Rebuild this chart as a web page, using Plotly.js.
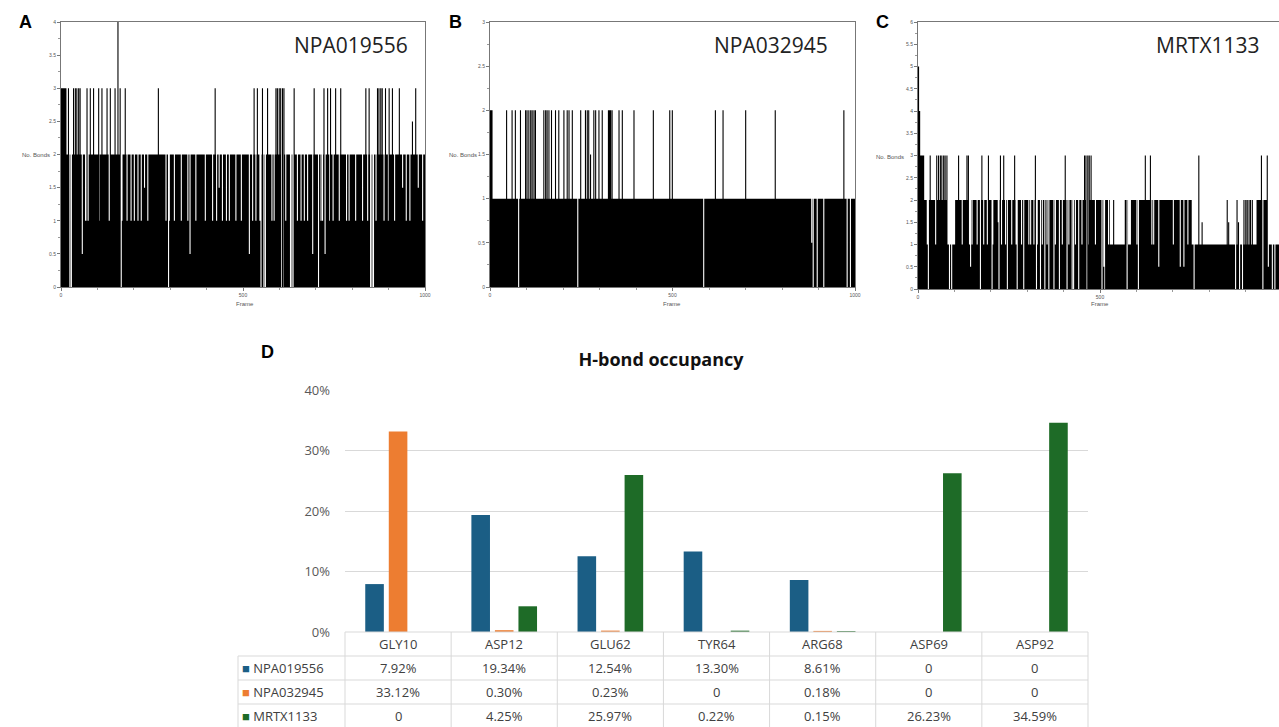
<!DOCTYPE html>
<html>
<head>
<meta charset="utf-8">
<script src="https://cdn.plot.ly/plotly-3.0.1.min.js"></script>
<style>
  html, body { margin: 0; padding: 0; background: #fff; }
  #chart { width: 1279px; height: 727px; }
</style>
</head>
<body>
<div id="chart"></div>
<script>
// ---------------- DATA ----------------
// Panel H-bond counts per frame: base runs [startFrame, level],
// dips and spikes [frame, level]
const nFrames = 1000;

const aRuns = [[0, 3], [15, 2], [66, 1], [76, 2]];
const aDips = [
  [103,1],[131,1],[166,1],[180,1],[191,1],[200,1],[210,1],[219,1],[237,1],[287,1],[296,1],[310,1],
  [329,1],[347,1],[369,1],[395,1],[415,1],[426,1],[442,1],[453,1],[461,1],[479,1],[494,1],[525,1],
  [534,1],[545,1],[578,1],[584,1],[616,1],[648,1],[658,1],[667,1],[676,1],[713,1],[717,1],[737,1],
  [746,1],[763,1],[783,1],[790,1],[808,1],[827,1],[841,1],[864,1],[886,1],[898,1],[915,1],[947,1],
  [957,1],[992,1],
  [228,1.5],[433,1.5],[937,1.5],[980,1.5],
  [23,0],[27,0],[164,0],[294,0],[548,0],[556,0],[560,0],[603,0],[606,0],[609,0],[629,0],[633,0],
  [637,0],[706,0],[849,0],[853,0],[857,0],
  [57,0.5],[353,0.5],[516,0.5],[690,0.5],[724,0.5]
];
const aSpikes = [
  [19,3],[33,3],[38,3],[42,3],[47,3],[51,3],[70,3],[79,3],[88,3],[102,3],[111,3],[125,3],[134,3],
  [147,3],[155,4],[161,3],[175,3],[266,3],[422,3],[529,3],[538,3],[552,3],[566,3],[589,3],[593,3],
  [598,3],[602,3],[607,3],[611,3],[639,3],[694,3],[721,3],[731,3],[739,3],[753,3],[767,3],[836,3],
  [845,3],[868,3],[872,3],[877,3],[881,3],[890,3],[900,3],[909,3],[928,3],[964,2.5],[973,3]
];

const bRuns = [[0, 2], [7, 1]];
const bDips = [[77,0],[239,0],[584,0],[880,0.5],[884,0],[895,0],[913,0],[977,0],[986,0]];
const bSpikes = [
  [44,2],[59,2],[68,2],[82,2],[96,2],[100,2],[105,2],[110,2],[114,2],[119,2],[123,2],[146,2],
  [151,2],[155,2],[160,2],[167,2],[178,2],[187,2],[201,2],[210,2],[215,2],[224,2],[247,2],[260,2],
  [265,2],[269,2],[274,1.5],[283,2],[288,2],[297,2],[306,2],[323,2],[326,2],[329,2],[333,2],[352,2],
  [361,2],[393,2],[446,2],[491,2],[498,2],[616,2],[637,2],[699,2],[780,2],[968,2]
];

const cRuns = [[0,5],[3,4],[6,3],[17,2],[81,1],[102,2],[527,1],[568,2],[577,1],[585,2],[752,1],[930,2],[958,1]];
const cDips = [
  [24,1],[47,1],[120,1],[140,1],[147,1],[161,1],[179,1],[189,1],[204,1],[228,1],[239,1],[256,1],
  [268,1],[283,1],[303,1],[308,1],[317,1],[326,1],[340,1],[353,1],[376,1],[395,1],[413,1],[431,1],
  [449,1],[468,1],[486,1],[522,1],[600,1],[641,1],[646,1],[700,1],[740,1],
  [219,1.5],
  [27,0],[85,0],[91,0],[170,0],[202,0],[221,0],[244,0],[271,0],[289,0],[324,0],[335,0],[347,0],
  [358,0],[372,0],[387,0],[408,0],[422,0],[426,0],[440,0],[463,0],[504,0],[511,0],[573,0],[604,0],
  [757,0],[871,0],[882,0],[890,0],[946,0],[972,0],[979,0],
  [143,0.5],[509,0.5],[660,0.5],[719,0.5],[729,0.5],[961,0.5]
];
const cSpikes = [
  [32,3],[50,3],[55,3],[60,3],[64,3],[69,3],[73,3],[78,3],[110,3],[133,3],[137,3],[174,3],[192,3],
  [225,3],[234,3],[264,3],[321,3],[403,3],[456,3],[460,3],[465,3],[469,3],[474,3],[623,3],[637,3],
  [770,3],[942,3],[958,3],
  [536,2],[848,2],[875,2],[894,2],[899,2],[903,2],[908,2],[912,2],[917,2],
  [779,1.5],[852,1.5],[879,1.5]
];

// Panel D: H-bond occupancy (%)
const residues = ['GLY10', 'ASP12', 'GLU62', 'TYR64', 'ARG68', 'ASP69', 'ASP92'];
const npa019556 = [7.92, 19.34, 12.54, 13.30, 8.61, 0, 0];
const npa032945 = [33.12, 0.30, 0.23, 0, 0.18, 0, 0];
const mrtx1133  = [0, 4.25, 25.97, 0.22, 0.15, 26.23, 34.59];
const seriesNames = ['NPA019556', 'NPA032945', 'MRTX1133'];
const seriesColors = ['#1b5e85', '#ed7d31', '#1e6b27'];

// ---------------- BUILD ----------------
const W = 1279, H = 727;
const px = v => v / W;
const py = v => 1 - v / H;

function buildSeries(runs, dips, spikes, n, w) {
  const y = new Array(n);
  let r = 0;
  for (let i = 0; i < n; i++) {
    while (r + 1 < runs.length && runs[r + 1][0] <= i) r++;
    y[i] = runs[r][1];
  }
  [dips, spikes].forEach(list => list.forEach(([f, v]) => {
    for (let k = 0; k < w; k++) if (f + k < n) y[f + k] = v;
  }));
  const x = [];
  for (let i = 0; i < n; i++) x.push(i);
  x.push(n); y.push(y[n - 1]);
  return { x, y };
}

const sA = buildSeries(aRuns, aDips, aSpikes, nFrames, 3);
const sB = buildSeries(bRuns, bDips, bSpikes, nFrames, 3);
const sC = buildSeries(cRuns, cDips, cSpikes, nFrames, 3);

function bondTrace(s, xa, ya) {
  return {
    type: 'scatter', mode: 'lines', x: s.x, y: s.y, xaxis: xa, yaxis: ya,
    line: { shape: 'hv', width: 0, color: '#000' },
    fill: 'tozeroy', fillcolor: '#000', showlegend: false, hoverinfo: 'skip'
  };
}

const traces = [
  bondTrace(sA, 'x', 'y'),
  bondTrace(sB, 'x2', 'y2'),
  bondTrace(sC, 'x3', 'y3')
];

const seriesVals = [npa019556, npa032945, mrtx1133];
seriesVals.forEach((vals, i) => {
  traces.push({
    type: 'bar', x: residues, y: vals.map(v => v / 100), name: seriesNames[i],
    marker: { color: seriesColors[i] }, xaxis: 'x4', yaxis: 'y4',
    showlegend: false, hoverinfo: 'skip'
  });
});

const tinyFont = { family: 'Liberation Sans, Arial, sans-serif', size: 5, color: '#555' };

function smallX(domain, rangeMax, anchor) {
  return {
    domain: domain, range: [0, rangeMax], anchor: anchor, showgrid: false, zeroline: false,
    showline: true, linecolor: '#777', linewidth: 1, mirror: true,
    tickvals: [0, 500, 1000], ticktext: ['0', '500', '1000'],
    ticks: 'outside', ticklen: 3, tickcolor: '#777', tickwidth: 1,
    minor: { dtick: 100, ticks: 'outside', ticklen: 2, tickcolor: '#999' },
    tickfont: tinyFont
  };
}
function smallY(domain, rangeMax, mirror, anchor) {
  return {
    domain: domain, range: [0, rangeMax], anchor: anchor, showgrid: false, zeroline: false,
    showline: true, linecolor: '#777', linewidth: 1, mirror: mirror,
    dtick: 0.5, tick0: 0, ticks: 'outside', ticklen: 3, tickcolor: '#777', tickwidth: 1,
    minor: { dtick: 0.25, ticks: 'outside', ticklen: 2, tickcolor: '#999' },
    tickfont: tinyFont
  };
}

const xDomD = [px(345), px(1088)];
const yDomD = [py(632), py(390)];

const layout = {
  width: W, height: H,
  margin: { l: 0, r: 0, t: 0, b: 0, pad: 0 },
  paper_bgcolor: '#fff', plot_bgcolor: 'rgba(0,0,0,0)',
  showlegend: false, hovermode: false,
  title: {
    text: '<b>H-bond occupancy</b>', x: px(661), xanchor: 'center', xref: 'paper',
    y: py(360), yanchor: 'middle', yref: 'paper',
    font: { family: 'Open Sans, sans-serif', size: 18, color: '#111' }
  },
  xaxis: smallX([px(61), px(425)], 1000, 'y'),
  yaxis: smallY([py(287), py(22)], 4, true, 'x'),
  xaxis2: smallX([px(490), px(855)], 1000, 'y2'),
  yaxis2: smallY([py(287), py(22)], 3, true, 'x2'),
  xaxis3: smallX([px(918), 1], 1000 * (1279 - 918) / 364, 'y3'),
  yaxis3: smallY([py(289), py(22)], 6, false, 'x3'),
  xaxis4: {
    domain: xDomD, anchor: 'y4', type: 'category', range: [-0.5, 6.5],
    showticklabels: false, ticks: '', showgrid: false, zeroline: false, showline: false
  },
  yaxis4: {
    domain: yDomD, anchor: 'x4', range: [0, 0.4], dtick: 0.1, tickformat: '.0%',
    showgrid: true, gridcolor: '#d9d9d9', gridwidth: 1, zeroline: false, showline: false,
    ticks: '', ticklabelstandoff: 14,
    tickfont: { family: 'Open Sans, sans-serif', size: 13, color: '#595959' }
  },
  barmode: 'group', bargap: 0.335, bargroupgap: 0.21,
  shapes: [], annotations: []
};

// Panel letters and names
const letters = [['A', 25, 22], ['B', 455, 22], ['C', 882, 22], ['D', 267, 352]];
letters.forEach(([t, x, y]) => layout.annotations.push({
  text: '<b>' + t + '</b>', x: px(x), y: py(y), xref: 'paper', yref: 'paper',
  xanchor: 'center', yanchor: 'middle', showarrow: false,
  font: { family: 'Liberation Sans, Arial, sans-serif', size: 18, color: '#000' }
}));
const names = [['NPA019556', 410], ['NPA032945', 830], ['MRTX1133', 1262]];
names.forEach(([t, x]) => layout.annotations.push({
  text: t, x: px(x), y: py(45), xref: 'paper', yref: 'paper',
  xanchor: 'right', yanchor: 'middle', showarrow: false,
  font: { family: 'Open Sans, sans-serif', size: 21, color: '#222' }
}));
// Small axis titles
[[36, 155, 'No. Bonds'], [463, 155, 'No. Bonds'], [890, 157, 'No. Bonds']].forEach(([x, y, t]) =>
  layout.annotations.push({
    text: t, x: px(x), y: py(y), xref: 'paper', yref: 'paper', xanchor: 'center', yanchor: 'middle',
    showarrow: false, font: { family: 'Liberation Sans, Arial, sans-serif', size: 6, color: '#555' }
  }));
[[245, 304], [672, 304], [1100, 304]].forEach(([x, y]) =>
  layout.annotations.push({
    text: 'Frame', x: px(x), y: py(y), xref: 'paper', yref: 'paper', xanchor: 'center', yanchor: 'middle',
    showarrow: false, font: { family: 'Liberation Sans, Arial, sans-serif', size: 6, color: '#555' }
  }));

// Data table under panel D (aligned to category columns)
const nCat = residues.length;
const colW = (xDomD[1] - xDomD[0]) / nCat;
const tableLeft = px(238);
const rowTops = [632, 656, 680, 704, 728];
const lineStyle = { color: '#d9d9d9', width: 1 };
function hLine(x0, x1, yy) {
  layout.shapes.push({ type: 'line', xref: 'paper', yref: 'paper', x0: x0, x1: x1, y0: py(yy), y1: py(yy), line: lineStyle });
}
function vLine(xx, y0, y1) {
  layout.shapes.push({ type: 'line', xref: 'paper', yref: 'paper', x0: xx, x1: xx, y0: py(y0), y1: py(y1), line: lineStyle });
}
hLine(xDomD[0], xDomD[1], rowTops[0]);
for (let r = 1; r < rowTops.length; r++) hLine(tableLeft, xDomD[1], rowTops[r]);
for (let c = 0; c <= nCat; c++) vLine(xDomD[0] + c * colW, rowTops[0], rowTops[4]);
vLine(tableLeft, rowTops[1], rowTops[4]);

const tableFont = { family: 'Open Sans, sans-serif', size: 13, color: '#404040' };
residues.forEach((res, c) => {
  const cx = xDomD[0] + (c + 0.5) * colW;
  layout.annotations.push({
    text: res, x: cx, y: py((rowTops[0] + rowTops[1]) / 2), xref: 'paper', yref: 'paper',
    xanchor: 'center', yanchor: 'middle', showarrow: false, font: tableFont
  });
  seriesVals.forEach((vals, r) => {
    const v = vals[c];
    const txt = v === 0 ? '0' : v.toFixed(2) + '%';
    layout.annotations.push({
      text: txt, x: cx, y: py((rowTops[r + 1] + rowTops[r + 2]) / 2), xref: 'paper', yref: 'paper',
      xanchor: 'center', yanchor: 'middle', showarrow: false, font: tableFont
    });
  });
});
seriesNames.forEach((n, r) => {
  layout.annotations.push({
    text: '<span style="color:' + seriesColors[r] + '">■</span> ' + n,
    x: px(240), y: py((rowTops[r + 1] + rowTops[r + 2]) / 2), xref: 'paper', yref: 'paper',
    xanchor: 'left', yanchor: 'middle', showarrow: false, font: tableFont
  });
});

Plotly.newPlot('chart', traces, layout, { staticPlot: true, displayModeBar: false });
</script>
</body>
</html>
